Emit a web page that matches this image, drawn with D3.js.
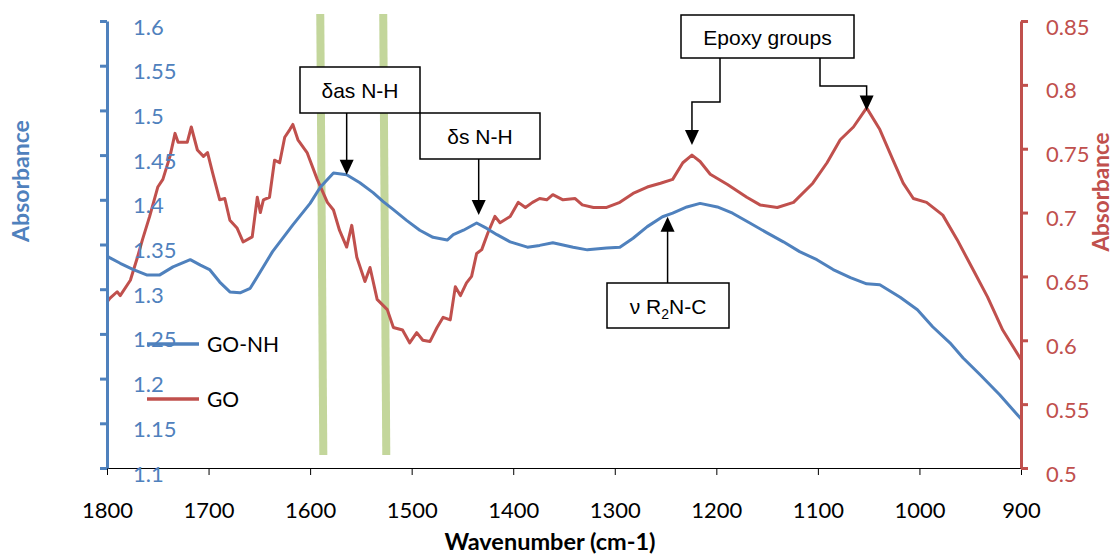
<!DOCTYPE html>
<html>
<head>
<meta charset="utf-8">
<script src="https://cdn.jsdelivr.net/npm/d3@7/dist/d3.min.js"></script>
<style>
  html, body { margin: 0; padding: 0; background: #fff; }
  svg { display: block; }
</style>
</head>
<body>
<svg id="chart" width="1114" height="556"></svg>
<script>
// ---------------- DATA ----------------
const xTicks = [1800, 1700, 1600, 1500, 1400, 1300, 1200, 1100, 1000, 900];
const leftTicks = [1.1, 1.15, 1.2, 1.25, 1.3, 1.35, 1.4, 1.45, 1.5, 1.55, 1.6];
const leftTickLabels = ["1.1", "1.15", "1.2", "1.25", "1.3", "1.35", "1.4", "1.45", "1.5", "1.55", "1.6"];
const rightTicks = [0.5, 0.55, 0.6, 0.65, 0.7, 0.75, 0.8, 0.85];
const rightTickLabels = ["0.5", "0.55", "0.6", "0.65", "0.7", "0.75", "0.8", "0.85"];

const seriesNames = ["GO-NH", "GO"];

// GO-NH (left axis)
const goNhWave = [1800, 1797, 1787, 1774, 1761, 1748, 1735, 1718, 1708, 1699, 1689, 1679, 1669, 1659, 1652, 1637, 1617, 1600, 1590, 1577, 1564, 1551, 1538, 1528, 1518, 1505, 1492, 1479, 1465, 1459, 1449, 1436, 1426, 1416, 1403, 1386, 1374, 1361, 1341, 1327, 1308, 1295, 1282, 1268, 1253, 1243, 1229, 1216, 1199, 1184, 1167, 1150, 1134, 1118, 1101, 1085, 1068, 1052, 1039, 1019, 1002, 987, 970, 957, 940, 921, 900];
const goNhAbs = [1.337, 1.335, 1.329, 1.322, 1.316, 1.316, 1.325, 1.333, 1.327, 1.322, 1.308, 1.297, 1.296, 1.301, 1.314, 1.342, 1.372, 1.396, 1.414, 1.430, 1.428, 1.419, 1.408, 1.398, 1.389, 1.377, 1.366, 1.358, 1.355, 1.361, 1.366, 1.374, 1.368, 1.361, 1.353, 1.347, 1.349, 1.352, 1.347, 1.344, 1.346, 1.347, 1.357, 1.370, 1.381, 1.385, 1.392, 1.396, 1.392, 1.385, 1.374, 1.363, 1.353, 1.342, 1.333, 1.322, 1.313, 1.306, 1.305, 1.291, 1.277, 1.258, 1.240, 1.223, 1.204, 1.182, 1.155];

// GO (right axis)
const goWave = [1800, 1797, 1790, 1787, 1777, 1770, 1765, 1758, 1750, 1745, 1738, 1733, 1730, 1721, 1717, 1711, 1705, 1701, 1696, 1689, 1684, 1679, 1672, 1666, 1657, 1652, 1649, 1646, 1640, 1635, 1630, 1625, 1620, 1617, 1612, 1603, 1593, 1583, 1577, 1571, 1564, 1559, 1554, 1546, 1541, 1534, 1524, 1518, 1509, 1502, 1495, 1489, 1482, 1475, 1469, 1462, 1457, 1452, 1446, 1441, 1436, 1431, 1425, 1418, 1413, 1403, 1395, 1388, 1381, 1374, 1367, 1361, 1351, 1339, 1332, 1321, 1308, 1295, 1282, 1268, 1255, 1243, 1233, 1224, 1216, 1206, 1189, 1170, 1157, 1140, 1124, 1105, 1091, 1078, 1065, 1052, 1039, 1026, 1016, 1006, 993, 977, 963, 947, 933, 918, 900];
const goAbs = [0.630, 0.633, 0.638, 0.635, 0.647, 0.665, 0.679, 0.697, 0.720, 0.726, 0.744, 0.762, 0.755, 0.755, 0.767, 0.749, 0.744, 0.747, 0.731, 0.710, 0.711, 0.694, 0.688, 0.677, 0.681, 0.712, 0.700, 0.710, 0.712, 0.741, 0.739, 0.759, 0.765, 0.769, 0.757, 0.747, 0.726, 0.708, 0.702, 0.686, 0.673, 0.690, 0.665, 0.646, 0.657, 0.632, 0.624, 0.610, 0.608, 0.598, 0.606, 0.600, 0.599, 0.610, 0.618, 0.616, 0.642, 0.635, 0.645, 0.650, 0.668, 0.671, 0.684, 0.697, 0.692, 0.697, 0.708, 0.704, 0.708, 0.711, 0.710, 0.714, 0.710, 0.711, 0.706, 0.704, 0.704, 0.708, 0.715, 0.720, 0.723, 0.726, 0.739, 0.745, 0.740, 0.730, 0.722, 0.712, 0.706, 0.704, 0.708, 0.723, 0.739, 0.757, 0.767, 0.782, 0.765, 0.741, 0.723, 0.711, 0.708, 0.698, 0.679, 0.655, 0.634, 0.608, 0.585];

// highlighted bands (wavenumber at top, at bottom)
const bandTop = [1590, 1528];
const bandBottom = [1587, 1525];

// ---------------- LAYOUT ----------------
const M = { left: 107, right: 1021, top: 21, bottom: 468 };
const blue = "#4F81BD", red = "#C0504D", green = "#C3D69B";
const tickFont = "Lato, 'Open Sans', sans-serif";
const annFont = "'Liberation Sans', Arial, sans-serif";

const svg = d3.select("#chart");

const x = d3.scaleLinear().domain([1800, 900]).range([M.left, M.right]);
const yL = d3.scaleLinear().domain([1.1, 1.6]).range([M.bottom, M.top]);
const yR = d3.scaleLinear().domain([0.5, 0.85]).range([M.bottom, M.top]);

// X axis
const xAxis = svg.append("g")
  .attr("transform", `translate(0,${M.bottom})`)
  .call(d3.axisBottom(x).tickValues(xTicks).tickSize(7).tickSizeOuter(0).tickFormat(d3.format("d")));
xAxis.select(".domain").attr("stroke", "#000").attr("stroke-width", 1);
xAxis.selectAll(".tick line").attr("stroke", "#000").attr("stroke-width", 1);
xAxis.selectAll(".tick text")
  .attr("y", 50).attr("dy", 0)
  .attr("fill", "#000")
  .style("font-family", tickFont).style("font-size", "22px");

// green bands
svg.append("g").selectAll("line")
  .data(bandTop.map((t, i) => [t, bandBottom[i]]))
  .join("line")
  .attr("x1", d => x(d[0])).attr("x2", d => x(d[1]))
  .attr("y1", 14).attr("y2", 455)
  .attr("stroke", green).attr("stroke-width", 8);

// series lines
const lineL = d3.line().x((d, i) => x(goNhWave[i])).y(d => yL(d));
const lineR = d3.line().x((d, i) => x(goWave[i])).y(d => yR(d));

svg.append("path").datum(goAbs)
  .attr("d", lineR).attr("fill", "none")
  .attr("stroke", red).attr("stroke-width", 3).attr("stroke-linejoin", "round");
svg.append("path").datum(goNhAbs)
  .attr("d", lineL).attr("fill", "none")
  .attr("stroke", blue).attr("stroke-width", 3).attr("stroke-linejoin", "round");

// Left axis
const lAxis = svg.append("g")
  .attr("transform", `translate(${M.left},0)`)
  .call(d3.axisLeft(yL).tickValues(leftTicks).tickSize(7).tickSizeOuter(0)
    .tickFormat((d, i) => leftTickLabels[i]));
lAxis.select(".domain").attr("stroke", blue).attr("stroke-width", 3);
lAxis.selectAll(".tick line").attr("stroke", blue).attr("stroke-width", 3);
lAxis.selectAll(".tick text")
  .attr("x", 26).attr("dy", 13).attr("text-anchor", "start")
  .attr("fill", blue)
  .style("font-family", tickFont).style("font-size", "22px");

// Right axis
const rAxis = svg.append("g")
  .attr("transform", `translate(${M.right},0)`)
  .call(d3.axisRight(yR).tickValues(rightTicks).tickSize(7).tickSizeOuter(0)
    .tickFormat((d, i) => rightTickLabels[i]));
rAxis.select(".domain").attr("stroke", red).attr("stroke-width", 3);
rAxis.selectAll(".tick line").attr("stroke", red).attr("stroke-width", 3);
rAxis.selectAll(".tick text")
  .attr("x", 25).attr("dy", 13).attr("text-anchor", "start")
  .attr("fill", red)
  .style("font-family", tickFont).style("font-size", "22px");

// Axis titles
svg.append("text")
  .attr("transform", "translate(29,181) rotate(-90)")
  .attr("text-anchor", "middle")
  .attr("fill", blue).style("font-family", tickFont).style("font-weight", "bold").style("font-size", "23px")
  .text("Absorbance");
svg.append("text")
  .attr("transform", "translate(1109,192) rotate(-90)")
  .attr("text-anchor", "middle")
  .attr("fill", red).style("font-family", tickFont).style("font-weight", "bold").style("font-size", "22.5px")
  .text("Absorbance");
svg.append("text")
  .attr("x", 550).attr("y", 550)
  .attr("text-anchor", "middle")
  .attr("fill", "#000").style("font-family", tickFont).style("font-weight", "bold").style("font-size", "23.5px")
  .text("Wavenumber (cm-1)");

// Legend
const legendColors = [blue, red];
const legend = svg.append("g");
seriesNames.forEach((name, i) => {
  const ly = 344 + i * 55;
  legend.append("line").attr("x1", 147).attr("x2", 199).attr("y1", ly).attr("y2", ly)
    .attr("stroke", legendColors[i]).attr("stroke-width", 3.5);
  legend.append("text").attr("x", 207).attr("y", ly + 7.5)
    .attr("fill", "#000").style("font-family", tickFont).style("font-size", "21px")
    .text(name);
});

// ---------------- ANNOTATIONS ----------------
const ann = svg.append("g");
function box(x0, y0, w, h) {
  ann.append("rect").attr("x", x0).attr("y", y0).attr("width", w).attr("height", h)
    .attr("fill", "#fff").attr("stroke", "#000").attr("stroke-width", 1.5);
}
function label(cx, cy, parts) {
  const t = ann.append("text").attr("x", cx).attr("y", cy).attr("text-anchor", "middle")
    .attr("dominant-baseline", "central")
    .style("font-family", annFont).style("font-size", "21px").attr("fill", "#000");
  parts.forEach(p => {
    const s = t.append("tspan").text(p.t);
    if (p.sub) s.attr("baseline-shift", "sub").style("font-size", "14px");
  });
}
function arrowDown(points) {
  const tip = points[points.length - 1];
  const pts = points.slice(0, -1).concat([[tip[0], tip[1] - 14]]);
  ann.append("path").attr("d", d3.line()(pts)).attr("fill", "none").attr("stroke", "#000").attr("stroke-width", 1.5);
  ann.append("path").attr("d", `M${tip[0]-7},${tip[1]-15}L${tip[0]+7},${tip[1]-15}L${tip[0]},${tip[1]}Z`).attr("fill", "#000");
}
function arrowUp(points) {
  const tip = points[points.length - 1];
  const pts = points.slice(0, -1).concat([[tip[0], tip[1] + 14]]);
  ann.append("path").attr("d", d3.line()(pts)).attr("fill", "none").attr("stroke", "#000").attr("stroke-width", 1.5);
  ann.append("path").attr("d", `M${tip[0]-7},${tip[1]+15}L${tip[0]+7},${tip[1]+15}L${tip[0]},${tip[1]}Z`).attr("fill", "#000");
}

// δas N-H
const tAs = [x(1564), yL(1.428)];
arrowDown([[tAs[0], 113], tAs]);
box(300, 67, 120, 46);
label(360, 90, [{t: "δas N-H"}]);

// δs N-H
const tS = [x(1434), yL(1.383)];
arrowDown([[tS[0], 159], tS]);
box(420, 113, 120, 46);
label(480, 136, [{t: "δs N-H"}]);

// Epoxy groups
const tE1 = [x(1224), yR(0.753)];
const tE2 = [x(1052), yR(0.780)];
arrowDown([[720, 58], [720, 102], [tE1[0], 102], tE1]);
arrowDown([[820, 58], [820, 86], [tE2[0], 86], tE2]);
box(681, 15, 173, 43);
label(767.5, 37, [{t: "Epoxy groups"}]);

// ν R2N-C
const tN = [x(1248), yL(1.381)];
arrowUp([[tN[0], 283], tN]);
box(607, 283, 122, 45);
label(668, 306, [{t: "ν R"}, {t: "2", sub: true}, {t: "N-C"}]);
</script>
</body>
</html>
